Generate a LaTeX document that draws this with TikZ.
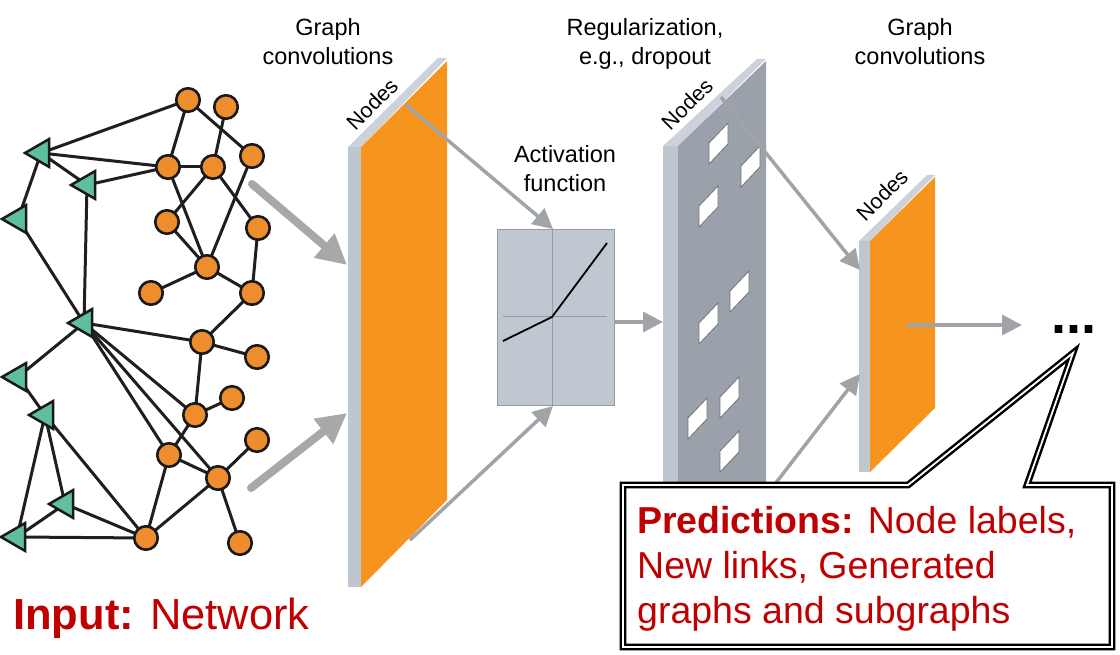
\documentclass[tikz,border=0pt]{standalone}
\usepackage{fontspec}
\setmainfont{Liberation Sans}
\usetikzlibrary{arrows.meta,shapes.geometric,backgrounds}
\definecolor{circO}{RGB}{238,141,46}
\definecolor{triG}{RGB}{95,190,160}
\definecolor{panO}{RGB}{247,148,30}
\definecolor{stripC}{RGB}{190,198,208}
\definecolor{topC}{RGB}{204,210,218}
\definecolor{greyFace}{RGB}{155,161,170}
\definecolor{boxC}{RGB}{192,199,209}
\definecolor{boxD}{RGB}{150,156,164}
\definecolor{arrG}{RGB}{160,163,168}
\definecolor{arrT}{RGB}{168,168,168}
\definecolor{redT}{RGB}{192,0,0}
\tikzset{
  orn/.style={circle, fill=circO, draw=black!90, line width=2.6pt, minimum size=23.5pt, inner sep=0pt},
  tri/.style={regular polygon, regular polygon sides=3, shape border rotate=90, fill=triG, draw=black!90, line width=2.5pt, minimum size=32pt, inner sep=0pt},
  netline/.style={draw=black!88, line width=3pt},
  thinarr/.style={draw=arrG, line width=3.5pt, -{Triangle[length=20pt,width=20pt]}},
  thickarr/.style={draw=arrT, line width=8pt, line cap=round, -{Triangle[length=30pt,width=30pt]}},
  hole/.style={fill=white, draw=black!55, line width=0.8pt},
  lab/.style={font=\fontsize{23.5}{29}\selectfont, align=center, inner sep=0pt},
  nodeslab/.style={font=\fontsize{21.5}{24}\selectfont, rotate=45, inner sep=0pt},
  callout/.style={fill=white, draw=black, double=white, line width=2.5pt, double distance=1.8pt, line join=miter}
}
\begin{document}
\begin{tikzpicture}[x=1pt,y=-1pt]
\useasboundingbox (0,0) rectangle (1120,655);
% ---------- network ----------
\node[orn] (A) at (188,100) {};
\node[orn] (B) at (226,107) {};
\node[orn] (C) at (168,167) {};
\node[orn] (D) at (213,167) {};
\node[orn] (E) at (252,156) {};
\node[orn] (F) at (167,222) {};
\node[orn] (G) at (258,228) {};
\node[orn] (H) at (207,267) {};
\node[orn] (I) at (151,293) {};
\node[orn] (J) at (252,293) {};
\node[orn] (K) at (202,342) {};
\node[orn] (L) at (257,357) {};
\node[orn] (M) at (232,398) {};
\node[orn] (N) at (195,415) {};
\node[orn] (O) at (257,440) {};
\node[orn] (P) at (169,455) {};
\node[orn] (Q) at (218,478) {};
\node[orn] (R) at (146,538) {};
\node[orn] (S) at (240,543) {};
\node[tri] (T1) at (41,153) {};
\node[tri] (T2) at (87,185) {};
\node[tri] (T3) at (18,219) {};
\node[tri] (T4) at (84,323) {};
\node[tri] (T5) at (18,377) {};
\node[tri] (T6) at (45,415) {};
\node[tri] (T7) at (65,504) {};
\node[tri] (T8) at (17,537) {};
\begin{pgfonlayer}{background}
\foreach \u/\v in {A/T1,A/C,A/E,B/D,C/D,C/T1,C/T2,T1/T2,T1/T3,T3/T4,T2/T4,C/H,D/F,D/G,E/H,F/H,H/I,H/J,G/J,J/K,T4/K,K/L,K/N,N/M,T4/N,T4/Q,T4/P,T4/T5,T5/T6,T6/T8,T6/T7,T6/R,T7/R,T7/T8,T8/R,N/P,P/Q,P/R,Q/R,Q/O,Q/S}
  \draw[netline] (\u.center) -- (\v.center);
\end{pgfonlayer}
% ---------- panel 1 ----------
\fill[stripC] (348,147) rectangle (361,587);
\fill[topC] (348,147) -- (438,58) -- (447,58) -- (361,147) -- cycle;
\fill[panO] (361,147) -- (447,61) -- (447,500) -- (361,587) -- cycle;
% ---------- panel 2 ----------
\fill[stripC] (663,146) rectangle (678,600);
\fill[topC] (663,146) -- (757,59) -- (766,59) -- (678,146) -- cycle;
\fill[greyFace] (678,146) -- (766,61) -- (766,512) -- (678,600) -- cycle;
\foreach \hx/\hy in {709/123,741/146,699/186,730/271,699/303,720/377,688/398,720/431}
  \filldraw[hole] (\hx,\hy+20) -- (\hx+19,\hy) -- (\hx+19,\hy+21) -- (\hx,\hy+41) -- cycle;
% ---------- panel 3 ----------
\fill[stripC] (859,241) rectangle (870,472);
\fill[topC] (859,241) -- (927,175) -- (935,175) -- (870,241) -- cycle;
\fill[panO] (870,241) -- (935,177) -- (935,408) -- (870,472) -- cycle;
% ---------- activation box ----------
\node[rectangle, fill=boxC, draw=boxD, line width=0.8pt, minimum width=117pt, minimum height=176pt, inner sep=0pt] (act) at (555.5,317) {};
\draw[boxD, line width=1pt] (552,229) -- (552,405);
\draw[boxD, line width=1pt] (503,317) -- (607,317);
\draw[black, line width=1.8pt] (503,341) -- (552,317) -- (607,243);
% ---------- labels ----------
\node[nodeslab] (n1) at (372,104) {Nodes};
\node[nodeslab] (n2) at (687,104) {Nodes};
\node[nodeslab] (n3) at (882,195) {Nodes};
\node[lab, anchor=north] (l1) at (328,18) {Graph\\convolutions};
\node[lab, anchor=north] (l2) at (645,18) {Regularization,\\e.g., dropout};
\node[lab, anchor=north] (l3) at (920,18) {Graph\\convolutions};
\node[lab, anchor=north] (l4) at (565,145) {Activation\\function};
% ---------- arrows ----------
\coordinate (s1) at (252,184); \coordinate (e1) at (347,265);
\coordinate (s2) at (251,488); \coordinate (e2) at (347,413);
\draw[thickarr] (s1) -- (e1);
\draw[thickarr] (s2) -- (e2);
\coordinate (p1t) at (406,105);
\coordinate (p1b) at (410,540);
\coordinate (actN) at (553,229);
\coordinate (actS) at (553,406);
\coordinate (actE) at (614,322);
\coordinate (p2l) at (663,322);
\coordinate (p2t) at (721,97);
\coordinate (p2b) at (775,484);
\coordinate (p3t) at (860,270);
\coordinate (p3b) at (860,374);
\coordinate (p3m) at (907,325);
\coordinate (dots) at (1022,325);
\draw[thinarr] (p1t) -- (actN);
\draw[thinarr] (p1b) -- (actS);
\draw[thinarr] (actE) -- (p2l);
\draw[thinarr] (p2t) -- (p3t);
\draw[thinarr] (p2b) -- (p3b);
\draw[thinarr] (p3m) -- (dots);
\node[anchor=base west, inner sep=0pt, font=\fontsize{54}{54}\selectfont\bfseries] (ell) at (1051,334) {...};
% ---------- callout ----------
\draw[callout] (623,485) -- (908,485) -- (1073,353) -- (1027,485) -- (1112,485) -- (1112,647) -- (623,647) -- cycle;
\node[anchor=north west, inner sep=0pt, align=left, text=redT, font=\fontsize{37.5}{45}\selectfont] (pred) at (637,506)
  {\textbf{Predictions:} Node labels,\\New links, Generated\\graphs and subgraphs};
\node[anchor=base west, inner sep=0pt, text=redT, font=\fontsize{43.5}{50}\selectfont] (inp) at (13,629) {\textbf{Input:} Network};
\end{tikzpicture}
\end{document}
